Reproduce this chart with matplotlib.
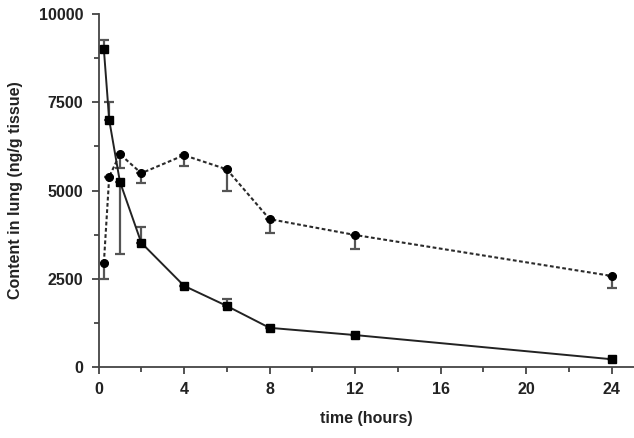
import matplotlib.pyplot as plt
from matplotlib.ticker import MultipleLocator

# time points (hours)
t_square = [0.25, 0.5, 1, 2, 4, 6, 8, 12, 24]
v_square = [9000, 7000, 5250, 3520, 2300, 1730, 1110, 905, 220]
err_square_lo = [0, 0, 2050, 0, 0, 0, 0, 0, 0]
err_square_hi = [270, 500, 0, 440, 0, 200, 0, 0, 0]

t_circle = [0.25, 0.5, 1, 2, 4, 6, 8, 12, 24]
v_circle = [2950, 5390, 6030, 5490, 6000, 5600, 4190, 3740, 2580]
err_circle_lo = [450, 0, 400, 270, 310, 610, 380, 400, 350]
err_circle_hi = [0, 0, 0, 0, 0, 0, 0, 0, 0]

plt.rcParams['font.family'] = ['Liberation Sans', 'DejaVu Sans']

fig = plt.figure(figsize=(6.34, 4.38), dpi=100)
ax = fig.add_axes([0.1554, 0.1621, 0.8446, 0.8059])

ax.errorbar(t_circle, v_circle, yerr=[err_circle_lo, err_circle_hi],
            color='#2a2a2a', ecolor='#555555', elinewidth=1.6, capsize=3.5, capthick=1.6,
            linestyle=(0, (1.8, 1.2)), linewidth=1.5, marker='o', markersize=5.5,
            markerfacecolor='black', markeredgecolor='black', zorder=3)
ax.errorbar(t_square, v_square, yerr=[err_square_lo, err_square_hi],
            color='#222222', ecolor='#555555', elinewidth=1.6, capsize=3.5, capthick=1.6,
            linestyle='-', linewidth=1.4, marker='s', markersize=5.5,
            markerfacecolor='black', markeredgecolor='black', zorder=3)

ax.set_xlim(0, 25.05)
ax.set_ylim(0, 10000)
ax.xaxis.set_major_locator(MultipleLocator(4))
ax.xaxis.set_minor_locator(MultipleLocator(2))
ax.yaxis.set_major_locator(MultipleLocator(2500))
ax.yaxis.set_minor_locator(MultipleLocator(1250))

for side in ['top', 'right']:
  ax.spines[side].set_visible(False)
for side in ['left', 'bottom']:
  ax.spines[side].set_color('#444444')
  ax.spines[side].set_linewidth(1.3)
  ax.spines[side].set_clip_on(False)

ax.tick_params(which='major', length=5, width=1.3, color='#444444', labelsize=11.5, pad=6)
ax.tick_params(which='minor', length=3.5, width=1.3, color='#444444')
for lbl in ax.get_xticklabels() + ax.get_yticklabels():
  lbl.set_fontweight('bold')
  lbl.set_color('#222222')

ax.set_xlabel('time (hours)', fontsize=11.5, fontweight='bold', color='#222222', labelpad=10)
ax.set_ylabel('Content in lung (ng/g tissue)', fontsize=11.5, fontweight='bold', color='#222222', labelpad=11)

fig.savefig('out.png', dpi=100)
